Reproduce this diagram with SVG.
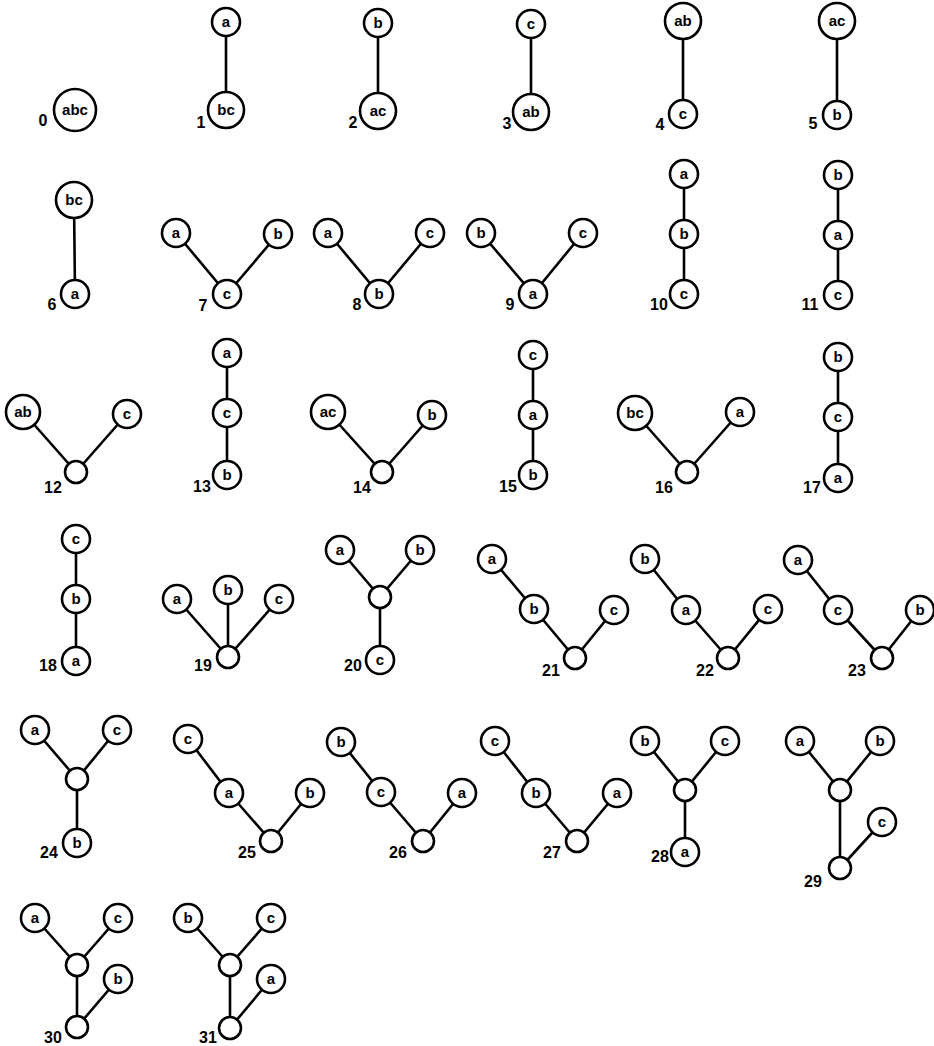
<svg xmlns="http://www.w3.org/2000/svg" width="934" height="1046" viewBox="0 0 934 1046">
<style>
.n circle{fill:#fff;stroke:#000;stroke-width:2.6}
.n text{font-family:"Liberation Sans",Arial,sans-serif;font-weight:bold;font-size:15px;text-anchor:middle;dominant-baseline:central;fill:#000}
.lb{font-family:"Liberation Sans",Arial,sans-serif;font-weight:bold;font-size:16px;text-anchor:middle;dominant-baseline:central;fill:#000}
#edges line{stroke:#000;stroke-width:2.6}
</style>
<rect width="934" height="1046" fill="#fff"/>
<g id="edges">
<line x1="226" y1="22" x2="226" y2="110"/>
<line x1="378" y1="23" x2="378" y2="111"/>
<line x1="531" y1="24" x2="531" y2="112"/>
<line x1="683" y1="21" x2="683" y2="114"/>
<line x1="837" y1="21" x2="837" y2="115"/>
<line x1="74" y1="200" x2="75" y2="294"/>
<line x1="176" y1="233" x2="227" y2="294"/><line x1="278" y1="234" x2="227" y2="294"/>
<line x1="328" y1="233" x2="379" y2="294"/><line x1="430" y1="233" x2="379" y2="294"/>
<line x1="481" y1="233" x2="533" y2="294"/><line x1="583" y1="233" x2="533" y2="294"/>
<line x1="684" y1="174" x2="684" y2="294"/>
<line x1="838" y1="175" x2="838" y2="295"/>
<line x1="23" y1="412" x2="76" y2="472"/><line x1="127" y1="414" x2="76" y2="472"/>
<line x1="227" y1="353" x2="227" y2="475"/>
<line x1="328" y1="412" x2="382" y2="472"/><line x1="432" y1="415" x2="382" y2="472"/>
<line x1="533" y1="355" x2="533" y2="475"/>
<line x1="635" y1="413" x2="687" y2="472"/><line x1="740" y1="412" x2="687" y2="472"/>
<line x1="838" y1="357" x2="838" y2="478"/>
<line x1="76" y1="539" x2="76" y2="661"/>
<line x1="177" y1="599" x2="228" y2="657"/><line x1="228" y1="590" x2="228" y2="657"/><line x1="279" y1="599" x2="228" y2="657"/>
<line x1="340" y1="550" x2="380" y2="597"/><line x1="420" y1="550" x2="380" y2="597"/><line x1="380" y1="597" x2="380" y2="660"/>
<line x1="492" y1="559" x2="534" y2="609"/><line x1="534" y1="609" x2="575" y2="658"/><line x1="614" y1="610" x2="575" y2="658"/>
<line x1="645" y1="559" x2="686" y2="610"/><line x1="686" y1="610" x2="728" y2="658"/><line x1="768" y1="609" x2="728" y2="658"/>
<line x1="798" y1="560" x2="838" y2="610"/><line x1="838" y1="610" x2="882" y2="658"/><line x1="920" y1="610" x2="882" y2="658"/>
<line x1="35" y1="730" x2="77" y2="779"/><line x1="117" y1="730" x2="77" y2="779"/><line x1="77" y1="779" x2="77" y2="843"/>
<line x1="188" y1="739" x2="229" y2="793"/><line x1="229" y1="793" x2="271" y2="841"/><line x1="310" y1="793" x2="271" y2="841"/>
<line x1="341" y1="742" x2="381" y2="792"/><line x1="381" y1="792" x2="423" y2="841"/><line x1="462" y1="793" x2="423" y2="841"/>
<line x1="495" y1="741" x2="536" y2="793"/><line x1="536" y1="793" x2="577" y2="841"/><line x1="617" y1="793" x2="577" y2="841"/>
<line x1="645" y1="741" x2="685" y2="790"/><line x1="725" y1="741" x2="685" y2="790"/><line x1="685" y1="790" x2="685" y2="852"/>
<line x1="800" y1="741" x2="840" y2="790"/><line x1="880" y1="741" x2="840" y2="790"/><line x1="840" y1="790" x2="840" y2="868"/><line x1="882" y1="822" x2="840" y2="868"/>
<line x1="35" y1="918" x2="77" y2="965"/><line x1="118" y1="918" x2="77" y2="965"/><line x1="77" y1="965" x2="77" y2="1027"/><line x1="118" y1="979" x2="77" y2="1027"/>
<line x1="188" y1="918" x2="230" y2="965"/><line x1="271" y1="918" x2="230" y2="965"/><line x1="230" y1="965" x2="230" y2="1028"/><line x1="271" y1="979" x2="230" y2="1028"/>
</g>

<g id="t0"><g id="t0-abc" class="n"><circle cx="75" cy="110" r="21"/><text x="75" y="109">abc</text></g><text class="lb" x="43" y="120">0</text></g>
<g id="t1"><g id="t1-a" class="n"><circle cx="226" cy="22" r="14"/><text x="226" y="21">a</text></g><g id="t1-bc" class="n"><circle cx="226" cy="110" r="18"/><text x="226" y="109">bc</text></g><text class="lb" x="201" y="122">1</text></g>
<g id="t2"><g id="t2-b" class="n"><circle cx="378" cy="23" r="14"/><text x="378" y="22">b</text></g><g id="t2-ac" class="n"><circle cx="378" cy="111" r="18"/><text x="378" y="110">ac</text></g><text class="lb" x="353" y="122">2</text></g>
<g id="t3"><g id="t3-c" class="n"><circle cx="531" cy="24" r="14"/><text x="531" y="23">c</text></g><g id="t3-ab" class="n"><circle cx="531" cy="112" r="18"/><text x="531" y="111">ab</text></g><text class="lb" x="507" y="123">3</text></g>
<g id="t4"><g id="t4-ab" class="n"><circle cx="683" cy="21" r="18"/><text x="683" y="20">ab</text></g><g id="t4-c" class="n"><circle cx="683" cy="114" r="14"/><text x="683" y="113">c</text></g><text class="lb" x="660" y="124">4</text></g>
<g id="t5"><g id="t5-ac" class="n"><circle cx="837" cy="21" r="18"/><text x="837" y="20">ac</text></g><g id="t5-b" class="n"><circle cx="837" cy="115" r="14"/><text x="837" y="114">b</text></g><text class="lb" x="813" y="123">5</text></g>

<g id="t6"><g id="t6-bc" class="n"><circle cx="74" cy="200" r="18"/><text x="74" y="199">bc</text></g><g id="t6-a" class="n"><circle cx="75" cy="294" r="14"/><text x="75" y="293">a</text></g><text class="lb" x="52" y="304">6</text></g>
<g id="t7"><g id="t7-a" class="n"><circle cx="176" cy="233" r="14"/><text x="176" y="232">a</text></g><g id="t7-b" class="n"><circle cx="278" cy="234" r="14"/><text x="278" y="233">b</text></g><g id="t7-c" class="n"><circle cx="227" cy="294" r="14"/><text x="227" y="293">c</text></g><text class="lb" x="203" y="305">7</text></g>
<g id="t8"><g id="t8-a" class="n"><circle cx="328" cy="233" r="14"/><text x="328" y="232">a</text></g><g id="t8-c" class="n"><circle cx="430" cy="233" r="14"/><text x="430" y="232">c</text></g><g id="t8-b" class="n"><circle cx="379" cy="294" r="14"/><text x="379" y="293">b</text></g><text class="lb" x="357" y="304">8</text></g>
<g id="t9"><g id="t9-b" class="n"><circle cx="481" cy="233" r="14"/><text x="481" y="232">b</text></g><g id="t9-c" class="n"><circle cx="583" cy="233" r="14"/><text x="583" y="232">c</text></g><g id="t9-a" class="n"><circle cx="533" cy="294" r="14"/><text x="533" y="293">a</text></g><text class="lb" x="510" y="304">9</text></g>
<g id="t10"><g id="t10-a" class="n"><circle cx="684" cy="174" r="14"/><text x="684" y="173">a</text></g><g id="t10-b" class="n"><circle cx="684" cy="234" r="14"/><text x="684" y="233">b</text></g><g id="t10-c" class="n"><circle cx="684" cy="294" r="14"/><text x="684" y="293">c</text></g><text class="lb" x="659" y="304">10</text></g>
<g id="t11"><g id="t11-b" class="n"><circle cx="838" cy="175" r="14"/><text x="838" y="174">b</text></g><g id="t11-a" class="n"><circle cx="838" cy="235" r="14"/><text x="838" y="234">a</text></g><g id="t11-c" class="n"><circle cx="838" cy="295" r="14"/><text x="838" y="294">c</text></g><text class="lb" x="810" y="304">11</text></g>

<g id="t12"><g id="t12-ab" class="n"><circle cx="23" cy="412" r="17"/><text x="23" y="411">ab</text></g><g id="t12-c" class="n"><circle cx="127" cy="414" r="14"/><text x="127" y="413">c</text></g><g id="t12-e" class="n"><circle cx="76" cy="472" r="11"/></g><text class="lb" x="53" y="487">12</text></g>
<g id="t13"><g id="t13-a" class="n"><circle cx="227" cy="353" r="14"/><text x="227" y="352">a</text></g><g id="t13-c" class="n"><circle cx="227" cy="413" r="14"/><text x="227" y="412">c</text></g><g id="t13-b" class="n"><circle cx="227" cy="475" r="14"/><text x="227" y="474">b</text></g><text class="lb" x="202" y="486">13</text></g>
<g id="t14"><g id="t14-ac" class="n"><circle cx="328" cy="412" r="17"/><text x="328" y="411">ac</text></g><g id="t14-b" class="n"><circle cx="432" cy="415" r="14"/><text x="432" y="414">b</text></g><g id="t14-e" class="n"><circle cx="382" cy="472" r="11"/></g><text class="lb" x="362" y="487">14</text></g>
<g id="t15"><g id="t15-c" class="n"><circle cx="533" cy="355" r="14"/><text x="533" y="354">c</text></g><g id="t15-a" class="n"><circle cx="533" cy="415" r="14"/><text x="533" y="414">a</text></g><g id="t15-b" class="n"><circle cx="533" cy="475" r="14"/><text x="533" y="474">b</text></g><text class="lb" x="508" y="486">15</text></g>
<g id="t16"><g id="t16-bc" class="n"><circle cx="635" cy="413" r="17"/><text x="635" y="412">bc</text></g><g id="t16-a" class="n"><circle cx="740" cy="412" r="14"/><text x="740" y="411">a</text></g><g id="t16-e" class="n"><circle cx="687" cy="472" r="11"/></g><text class="lb" x="664" y="487">16</text></g>
<g id="t17"><g id="t17-b" class="n"><circle cx="838" cy="357" r="14"/><text x="838" y="356">b</text></g><g id="t17-c" class="n"><circle cx="838" cy="417" r="14"/><text x="838" y="416">c</text></g><g id="t17-a" class="n"><circle cx="838" cy="478" r="14"/><text x="838" y="477">a</text></g><text class="lb" x="812" y="487">17</text></g>

<g id="t18"><g id="t18-c" class="n"><circle cx="76" cy="539" r="14"/><text x="76" y="538">c</text></g><g id="t18-b" class="n"><circle cx="76" cy="599" r="14"/><text x="76" y="598">b</text></g><g id="t18-a" class="n"><circle cx="76" cy="661" r="14"/><text x="76" y="660">a</text></g><text class="lb" x="48" y="665">18</text></g>
<g id="t19"><g id="t19-a" class="n"><circle cx="177" cy="599" r="14"/><text x="177" y="598">a</text></g><g id="t19-b" class="n"><circle cx="228" cy="590" r="14"/><text x="228" y="589">b</text></g><g id="t19-c" class="n"><circle cx="279" cy="599" r="14"/><text x="279" y="598">c</text></g><g id="t19-e" class="n"><circle cx="228" cy="657" r="11"/></g><text class="lb" x="203" y="665">19</text></g>
<g id="t20"><g id="t20-a" class="n"><circle cx="340" cy="550" r="14"/><text x="340" y="549">a</text></g><g id="t20-b" class="n"><circle cx="420" cy="550" r="14"/><text x="420" y="549">b</text></g><g id="t20-e" class="n"><circle cx="380" cy="597" r="11"/></g><g id="t20-c" class="n"><circle cx="380" cy="660" r="14"/><text x="380" y="659">c</text></g><text class="lb" x="353" y="665">20</text></g>
<g id="t21"><g id="t21-a" class="n"><circle cx="492" cy="559" r="14"/><text x="492" y="558">a</text></g><g id="t21-b" class="n"><circle cx="534" cy="609" r="14"/><text x="534" y="608">b</text></g><g id="t21-c" class="n"><circle cx="614" cy="610" r="14"/><text x="614" y="609">c</text></g><g id="t21-e" class="n"><circle cx="575" cy="658" r="11"/></g><text class="lb" x="551" y="670">21</text></g>
<g id="t22"><g id="t22-b" class="n"><circle cx="645" cy="559" r="14"/><text x="645" y="558">b</text></g><g id="t22-a" class="n"><circle cx="686" cy="610" r="14"/><text x="686" y="609">a</text></g><g id="t22-c" class="n"><circle cx="768" cy="609" r="14"/><text x="768" y="608">c</text></g><g id="t22-e" class="n"><circle cx="728" cy="658" r="11"/></g><text class="lb" x="705" y="670">22</text></g>
<g id="t23"><g id="t23-a" class="n"><circle cx="798" cy="560" r="14"/><text x="798" y="559">a</text></g><g id="t23-c" class="n"><circle cx="838" cy="610" r="14"/><text x="838" y="609">c</text></g><g id="t23-b" class="n"><circle cx="920" cy="610" r="14"/><text x="920" y="609">b</text></g><g id="t23-e" class="n"><circle cx="882" cy="658" r="11"/></g><text class="lb" x="857" y="670">23</text></g>

<g id="t24"><g id="t24-a" class="n"><circle cx="35" cy="730" r="14"/><text x="35" y="729">a</text></g><g id="t24-c" class="n"><circle cx="117" cy="730" r="14"/><text x="117" y="729">c</text></g><g id="t24-e" class="n"><circle cx="77" cy="779" r="11"/></g><g id="t24-b" class="n"><circle cx="77" cy="843" r="14"/><text x="77" y="842">b</text></g><text class="lb" x="49" y="852">24</text></g>
<g id="t25"><g id="t25-c" class="n"><circle cx="188" cy="739" r="14"/><text x="188" y="738">c</text></g><g id="t25-a" class="n"><circle cx="229" cy="793" r="14"/><text x="229" y="792">a</text></g><g id="t25-b" class="n"><circle cx="310" cy="793" r="14"/><text x="310" y="792">b</text></g><g id="t25-e" class="n"><circle cx="271" cy="841" r="11"/></g><text class="lb" x="247" y="852">25</text></g>
<g id="t26"><g id="t26-b" class="n"><circle cx="341" cy="742" r="14"/><text x="341" y="741">b</text></g><g id="t26-c" class="n"><circle cx="381" cy="792" r="14"/><text x="381" y="791">c</text></g><g id="t26-a" class="n"><circle cx="462" cy="793" r="14"/><text x="462" y="792">a</text></g><g id="t26-e" class="n"><circle cx="423" cy="841" r="11"/></g><text class="lb" x="398" y="852">26</text></g>
<g id="t27"><g id="t27-c" class="n"><circle cx="495" cy="741" r="14"/><text x="495" y="740">c</text></g><g id="t27-b" class="n"><circle cx="536" cy="793" r="14"/><text x="536" y="792">b</text></g><g id="t27-a" class="n"><circle cx="617" cy="793" r="14"/><text x="617" y="792">a</text></g><g id="t27-e" class="n"><circle cx="577" cy="841" r="11"/></g><text class="lb" x="552" y="852">27</text></g>
<g id="t28"><g id="t28-b" class="n"><circle cx="645" cy="741" r="14"/><text x="645" y="740">b</text></g><g id="t28-c" class="n"><circle cx="725" cy="741" r="14"/><text x="725" y="740">c</text></g><g id="t28-e" class="n"><circle cx="685" cy="790" r="11"/></g><g id="t28-a" class="n"><circle cx="685" cy="852" r="14"/><text x="685" y="851">a</text></g><text class="lb" x="660" y="856">28</text></g>
<g id="t29"><g id="t29-a" class="n"><circle cx="800" cy="741" r="14"/><text x="800" y="740">a</text></g><g id="t29-b" class="n"><circle cx="880" cy="741" r="14"/><text x="880" y="740">b</text></g><g id="t29-e1" class="n"><circle cx="840" cy="790" r="11"/></g><g id="t29-c" class="n"><circle cx="882" cy="822" r="14"/><text x="882" y="821">c</text></g><g id="t29-e2" class="n"><circle cx="840" cy="868" r="11"/></g><text class="lb" x="813" y="881">29</text></g>

<g id="t30"><g id="t30-a" class="n"><circle cx="35" cy="918" r="14"/><text x="35" y="917">a</text></g><g id="t30-c" class="n"><circle cx="118" cy="918" r="14"/><text x="118" y="917">c</text></g><g id="t30-e1" class="n"><circle cx="77" cy="965" r="11"/></g><g id="t30-b" class="n"><circle cx="118" cy="979" r="14"/><text x="118" y="978">b</text></g><g id="t30-e2" class="n"><circle cx="77" cy="1027" r="11"/></g><text class="lb" x="53" y="1037">30</text></g>
<g id="t31"><g id="t31-b" class="n"><circle cx="188" cy="918" r="14"/><text x="188" y="917">b</text></g><g id="t31-c" class="n"><circle cx="271" cy="918" r="14"/><text x="271" y="917">c</text></g><g id="t31-e1" class="n"><circle cx="230" cy="965" r="11"/></g><g id="t31-a" class="n"><circle cx="271" cy="979" r="14"/><text x="271" y="978">a</text></g><g id="t31-e2" class="n"><circle cx="230" cy="1028" r="11"/></g><text class="lb" x="208" y="1037">31</text></g>
</svg>
